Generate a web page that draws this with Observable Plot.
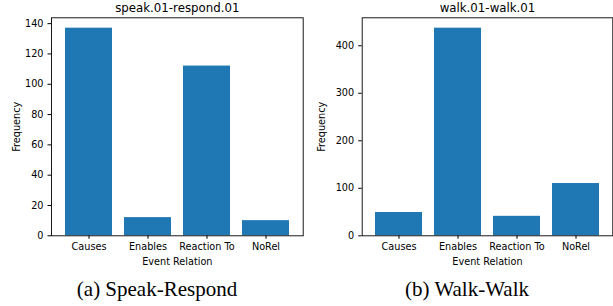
<!DOCTYPE html>
<html><head><meta charset="utf-8">
<script src="https://cdn.jsdelivr.net/npm/d3@7"></script>
<script src="https://cdn.jsdelivr.net/npm/@observablehq/plot@0.6"></script>
<style>
body{margin:0;background:#fff;}
#wrap{position:relative;width:613px;height:306px;overflow:hidden;background:#fff;}
.panel{position:absolute;top:0;}
.cap{position:absolute;top:279px;font-family:"Liberation Serif";font-size:21px;line-height:21px;white-space:nowrap;transform:translateX(-50%);color:#000;}
</style></head><body>
<div id="wrap"></div>
<script>
const categories = ["Causes", "Enables", "Reaction To", "NoRel"];
const speakRespond = [137, 12, 112, 10];
const walkWalk = [49, 437, 41, 110];
const ticksA = [0, 20, 40, 60, 80, 100, 120, 140];
const ticksB = [0, 100, 200, 300, 400];
const titles = ["speak.01-respond.01", "walk.01-walk.01"];
const captions = ["(a) Speak-Respond", "(b) Walk-Walk"];
const xLabel = "Event Relation";
const yLabel = "Frequency";

function panel(values, ticks, title, marginLeft, marginRight, freqDx) {
  const data = categories.map((c, i) => ({cat: c, value: values[i]}));
  return Plot.plot({
    width: 306, height: 272,
    marginTop: 17.3, marginBottom: 36.7, marginLeft, marginRight,
    style: {fontFamily: "DejaVu Sans", fontSize: "9.7px", color: "black", background: "transparent", overflow: "visible"},
    x: {type: "band", domain: categories, padding: 0.2},
    y: {domain: [0, d3.max(values) * 1.05]},
    marks: [
      Plot.barY(data, {x: "cat", y: "value", fill: "#1f77b4"}),
      Plot.axisX({tickSize: 3.5, tickPadding: 3.5, label: null}),
      Plot.axisY({ticks, tickSize: 3.5, tickPadding: 4.5, label: null, tickFormat: d => String(d)}),
      Plot.frame({stroke: "black", strokeWidth: 0.9}),
      Plot.text([title], {text: d => d, frameAnchor: "top", lineAnchor: "bottom", dy: -5.8, fontSize: 11.8}),
      Plot.text([xLabel], {text: d => d, frameAnchor: "bottom", lineAnchor: "bottom", dy: 29.5}),
      Plot.text([yLabel], {text: d => d, frameAnchor: "left", rotate: -90, lineAnchor: "bottom", textAnchor: "middle", dx: freqDx})
    ]
  });
}

const wrap = document.getElementById("wrap");
const p1 = panel(speakRespond, ticksA, titles[0], 51, 3.3, -31.5);
p1.classList.add("panel"); p1.style.left = "0px";
const p2 = panel(walkWalk, ticksB, titles[1], 54.7, 0.7, -37.4);
p2.classList.add("panel"); p2.style.left = "307px";
wrap.appendChild(p1); wrap.appendChild(p2);
[[captions[0], 157], [captions[1], 467]].forEach(([t, x]) => {
  const d = document.createElement("div");
  d.className = "cap"; d.textContent = t; d.style.left = x + "px";
  wrap.appendChild(d);
});
</script>
</body></html>
